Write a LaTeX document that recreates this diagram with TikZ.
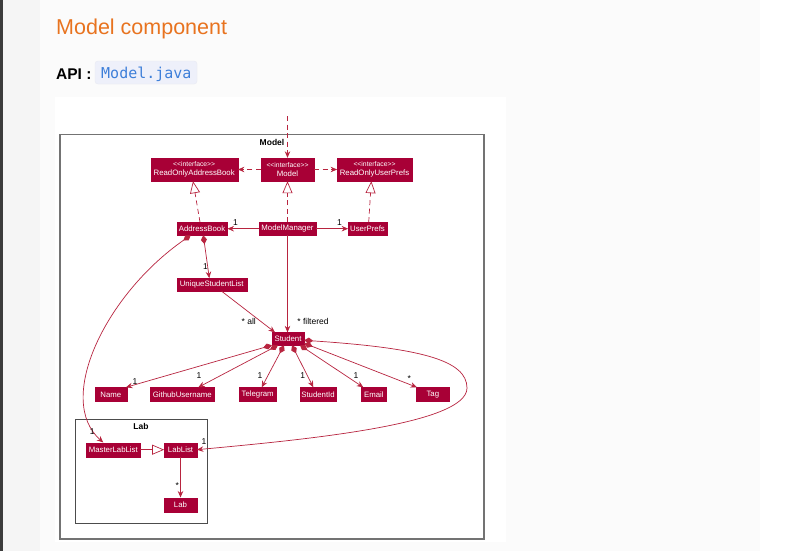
\documentclass[tikz,border=0pt]{standalone}
\usepackage{fontspec}
\setmainfont{Liberation Sans}
\setmonofont{DejaVu Sans Mono}
\usetikzlibrary{arrows.meta}
\definecolor{umlred}{HTML}{A80036}
\definecolor{linered}{HTML}{B8243F}
\definecolor{titleorange}{HTML}{E8731F}
\definecolor{codebg}{HTML}{EEF0FA}
\definecolor{codefg}{HTML}{3E7FD9}
\definecolor{pagebg}{HTML}{FBFBFB}
\definecolor{sidebg}{HTML}{F5F5F5}
\definecolor{darkstrip}{HTML}{3C3C3C}
\newcommand{\stereofnt}{\fontsize{6.8}{8}\selectfont}
\tikzset{
  cls/.style={fill=umlred, draw=umlred, text=white, font=\fontsize{7.8}{8.8}\selectfont, inner sep=0pt, minimum height=13.5pt, anchor=center},
  iface/.style={cls, minimum height=23pt, align=center},
  conn/.style={draw=linered, line width=0.7pt},
  dconn/.style={conn, dash pattern=on 5pt off 3.5pt},
  arr/.style={-{Stealth[length=6.5pt,width=5.5pt,inset=2.2pt,fill=linered]}},
  realize/.style={-{Triangle[open,length=12pt,width=10pt,fill=white]}},
  comp/.style={{Diamond[length=9pt,width=6pt,fill=linered]}-{Stealth[length=6.5pt,width=5.5pt,inset=2.2pt,fill=linered]}},
  mult/.style={font=\fontsize{8.5}{9.5}\selectfont, text=black, inner sep=0pt},
  pkg/.style={draw=black!55, line width=1.1pt},
  pkgtitle/.style={font=\bfseries\fontsize{8.5}{10}\selectfont, text=black, inner sep=0pt}
}
\begin{document}
\begin{tikzpicture}[x=1pt,y=-1pt]
\useasboundingbox (0,0) rectangle (794,551);
% page background
\fill[white] (0,0) rectangle (794,551);
\fill[sidebg] (3,0) rectangle (40,551);
\fill[pagebg] (40,0) rectangle (760,551);
\fill[darkstrip] (0,0) rectangle (3,551);
\fill[white] (55,97) rectangle (506,542);
% heading
\node[anchor=base west, inner sep=0pt, text=titleorange, font=\fontsize{21.5}{24}\selectfont] (title) at (56,35) {Model component};
\node[anchor=base west, inner sep=0pt, font=\bfseries\fontsize{15.5}{18}\selectfont] (api) at (56,79) {API :};
\fill[codebg, draw=codebg!90!black!30!codebg, rounded corners=3pt] (95,61) rectangle (197,84);
\node[anchor=base west, inner sep=0pt, text=codefg, font=\ttfamily\fontsize{15}{18}\selectfont] (code) at (101,78) {Model.java};
% packages
\draw[pkg] (60,134.5) rectangle (484,539);
\node[pkgtitle] (modeltitle) at (272,142) {Model};
\draw[pkg, draw=black!70, line width=0.9pt] (75.7,419) rectangle (207.3,523.3);
\node[pkgtitle] (labtitle) at (141,426.5) {Lab};
% interfaces
\node[iface, minimum width=87pt] (roab) at (194.2,169.5) {{\stereofnt <{}<interface>{}>}\\ReadOnlyAddressBook};
\node[iface, minimum width=52.7pt] (model) at (287.5,169.5) {{\stereofnt <{}<interface>{}>}\\Model};
\node[iface, minimum width=74.4pt] (roup) at (374.5,169.5) {{\stereofnt <{}<interface>{}>}\\ReadOnlyUserPrefs};
% classes
\node[cls, minimum width=50.6pt, minimum height=12.7pt] (ab) at (202,228.7) {AddressBook};
\node[cls, minimum width=56.7pt, minimum height=12.7pt] (mm) at (287.5,228.7) {ModelManager};
\node[cls, minimum width=38.4pt, minimum height=12.7pt] (up) at (367.5,228.7) {UserPrefs};
\node[cls, minimum width=70pt, minimum height=12.7pt] (usl) at (211.7,284.7) {UniqueStudentList};
\node[cls, minimum width=32pt, minimum height=12.5pt] (student) at (288,338.8) {Student};
\node[cls, minimum width=31.7pt, minimum height=14pt] (name) at (110.9,394.5) {Name};
\node[cls, minimum width=63.3pt, minimum height=14pt] (gh) at (182.3,394.5) {GithubUsername};
\node[cls, minimum width=36.7pt, minimum height=14pt] (tele) at (257.7,394.5) {Telegram};
\node[cls, minimum width=36pt, minimum height=14pt] (sid) at (318,394.5) {StudentId};
\node[cls, minimum width=25.7pt, minimum height=14pt] (email) at (373.8,394.5) {Email};
\node[cls, minimum width=32.3pt, minimum height=14pt] (tag) at (432.8,394.5) {Tag};
\node[cls, minimum width=53.3pt, minimum height=14pt] (mll) at (113.3,449.7) {MasterLabList};
\node[cls, minimum width=32.4pt, minimum height=14pt] (ll) at (180.5,449.7) {LabList};
\node[cls, minimum width=32.4pt, minimum height=14pt] (lab) at (180.5,504.7) {Lab};
% incoming dashed arrow
\coordinate (entry) at (287.5,116);
\draw[dconn, arr] (entry) -- (model.north);
% interface dependencies
\draw[dconn, arr] (model.west) -- (roab.east);
\draw[dconn, arr] (model.east) -- (roup.west);
% realizations
\draw[dconn, realize] ([xshift=-2pt]ab.north) -- ([xshift=-1.2pt]roab.south);
\draw[dconn, realize] (mm.north) -- (model.south);
\draw[dconn, realize] ([xshift=1.2pt]up.north) -- ([xshift=-3.2pt]roup.south);
% associations
\draw[conn, arr] (mm.west) -- (ab.east);
\node[mult] (m1) at (235.5,223) {1};
\draw[conn, arr] (mm.east) -- (up.west);
\node[mult] (m2) at (339.5,223) {1};
\draw[conn, comp] ([xshift=1.3pt]ab.south) -- ([xshift=-2.4pt]usl.north);
\node[mult] (m3) at (205.5,267) {1};
\draw[conn, arr] ([xshift=10pt]usl.south) -- ([xshift=-13pt]student.north);
\node[mult, anchor=center] (mall) at (248.7,321.7) {* all};
\draw[conn, arr] (mm.south) -- ([xshift=-0.5pt]student.north);
\node[mult, anchor=center] (mfilt) at (313,321.7) {* filtered};
% student attributes
\draw[conn, comp] (student.south west) -- ([xshift=-1pt]name.north east);
\node[mult] (m4) at (135,381.5) {1};
\draw[conn, comp] ([xshift=-10pt]student.south) -- ([xshift=16pt]gh.north);
\node[mult] (m5) at (199,376) {1};
\draw[conn, comp] ([xshift=-4pt]student.south) -- ([xshift=4pt]tele.north);
\node[mult] (m6) at (260,376) {1};
\draw[conn, comp] ([xshift=4pt]student.south) -- ([xshift=-4.7pt]sid.north);
\node[mult] (m7) at (302.7,376) {1};
\draw[conn, comp] ([xshift=12pt]student.south) -- ([xshift=-10.5pt]email.north);
\node[mult] (m8) at (356,376) {1};
\draw[conn, comp] ([yshift=2pt]student.south east) -- ([xshift=0.5pt]tag.north west);
\node[mult] (m9) at (409.3,378.5) {*};
% student to lablist
\coordinate (loopright) at (467,388);
\draw[conn, comp] ([yshift=-1.5pt]student.east) .. controls (420,348) and (467,360) .. (loopright) .. controls (467,425) and (300,440) .. (ll.east);
\node[mult] (m10) at (204,442) {1};
% addressbook to masterlablist
\draw[conn, comp] ([xshift=-11.3pt]ab.south) .. controls (105,295) and (55,400) .. ([xshift=-10pt]mll.north);
\node[mult] (m11) at (92.3,432) {1};
% lab package
\draw[conn, realize] (mll.east) -- (ll.west);
\draw[conn, arr] (ll.south) -- (lab.north);
\node[mult] (m12) at (177.3,485.5) {*};
\end{tikzpicture}
\end{document}
